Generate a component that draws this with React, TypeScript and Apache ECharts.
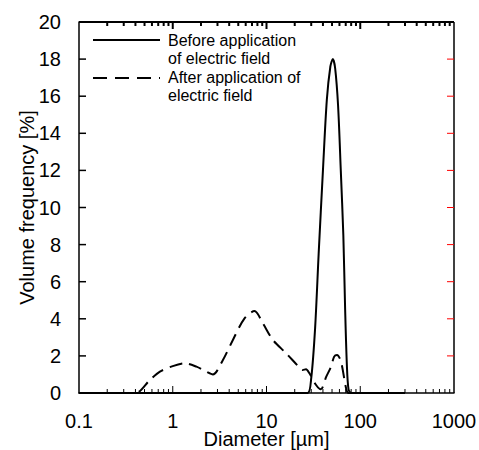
import React, { useEffect, useRef } from "react";
import * as echarts from "echarts";

// Solid: before application of electric field
const beforeDiameter = [0.1, 1, 10, 20, 27.5, 30, 33, 36, 40, 44, 48, 51, 54, 58, 62, 66, 69, 72, 75, 80, 100, 300];
const beforeVolume = [0, 0, 0, 0, 0, 0.8, 3.5, 7.5, 12, 15.8, 17.6, 18, 17.5, 15.5, 12, 8.5, 4.5, 1.5, 0.2, 0, 0, 0];

// Dashed: after application of electric field
const afterDiameter = [0.1, 0.2, 0.4, 0.57, 0.73, 1.0, 1.35, 1.79, 2.28, 2.68, 3.43, 4.38, 5.83, 7.45, 9.14, 11.7, 16.2, 22.4, 24.2, 26.4, 28.7, 33.8, 38, 43.4, 48.8, 52.7, 56.5, 62.3, 70.5, 75, 100, 300];
const afterVolume = [0, 0, 0, 0.7, 1.15, 1.45, 1.6, 1.42, 1.15, 1.0, 1.78, 2.86, 4.02, 4.42, 3.76, 2.86, 2.14, 1.38, 1.24, 1.28, 1.06, 0.43, 0.2, 0.88, 1.42, 1.96, 2.05, 1.7, 0.27, 0, 0, 0];

const xMajorTicks = [1, 10, 100];
const xMinorTicks = [0.2, 0.3, 0.4, 0.5, 0.6, 0.7, 0.8, 0.9, 2, 3, 4, 5, 6, 7, 8, 9, 20, 30, 40, 50, 60, 70, 80, 90, 200, 300, 400, 500, 600, 700, 800, 900];
const yTicks = [2, 4, 6, 8, 10, 12, 14, 16, 18];

const legendLabels = ["Before application", "of electric field", "After application of", "electric field"];

const FONT = "Liberation Sans, Arial, sans-serif";
const X_MIN = 0.1, X_MAX = 1000, Y_MIN = 0, Y_MAX = 20;
const W = 479, H = 450;
const GL = 79, GR = 454, GT = 22, GB = 393;

export default function App() {
  const ref = useRef<HTMLDivElement>(null);
  useEffect(() => {
    if (!ref.current) return;
    const chart = echarts.init(ref.current, undefined, { renderer: "svg" });
    const fmt = (v: number) => String(parseFloat(Number(v).toPrecision(6)));

    const xPos = (v: number) => GL + (Math.log10(v) - Math.log10(X_MIN)) / (Math.log10(X_MAX) - Math.log10(X_MIN)) * (GR - GL);
    const yPos = (v: number) => GB - (v - Y_MIN) / (Y_MAX - Y_MIN) * (GB - GT);
    const els: any[] = [];
    // variations to find what draws
    els.push({ type: "line", shape: { x1: GL, y1: GT, x2: GR, y2: GT }, style: { stroke: "#000", lineWidth: 2 } });
    els.push({ type: "line", shape: { x1: GR, y1: GT, x2: GR, y2: GB }, style: { stroke: "#000", lineWidth: 1.5 } });
    const addX = (v: number, len: number) => {
      const x = xPos(v);
      els.push({ type: "line", shape: { x1: x, y1: GB, x2: x, y2: GB - len }, style: { stroke: "#000", lineWidth: 1 } });
      els.push({ type: "line", shape: { x1: x, y1: GT, x2: x, y2: GT + len }, style: { stroke: "#000", lineWidth: 2 } });
    };
    xMajorTicks.forEach((v) => addX(v, 7));
    xMinorTicks.forEach((v) => addX(v, 4));
    yTicks.forEach((v) => {
      const y = yPos(v);
      els.push({ type: "line", shape: { x1: GL, y1: y, x2: GL + 7, y2: y }, style: { stroke: "#000", lineWidth: 1.5 } });
      els.push({ type: "line", shape: { x1: GR, y1: y, x2: GR - 7, y2: y }, style: { stroke: "red", lineWidth: 1 } });
    });
    // Legend
    els.push({ type: "line", shape: { x1: 93, y1: 40, x2: 160, y2: 40 }, style: { stroke: "#000", lineWidth: 2 } });
    els.push({ type: "line", shape: { x1: 93, y1: 78, x2: 160, y2: 78 }, style: { stroke: "#000", lineWidth: 2, lineDash: [14, 8] } });
    const ly = [40, 58, 77, 95];
    legendLabels.forEach((t, i) => {
      els.push({ type: "text", x: 168, y: ly[i], style: { text: t, fontSize: 16, fontFamily: FONT, fill: "#000", verticalAlign: "middle" } });
    });

    chart.setOption({
      animation: false,
      backgroundColor: "#fff",
      grid: { left: GL, right: W - GR, top: GT, bottom: H - GB, outerBoundsMode: "none" },
      xAxis: {
        type: "log",
        logBase: 10,
        min: X_MIN,
        max: X_MAX,
        name: "Diameter [µm]",
        nameLocation: "middle",
        nameGap: 36,
        nameMoveOverlap: false,
        nameTextStyle: { fontSize: 20, color: "#000", fontFamily: FONT },
        axisLine: { show: true, onZero: false, lineStyle: { color: "#000", width: 1.5 } },
        axisTick: { show: false },
        minorTick: { show: false },
        axisLabel: { fontSize: 20, lineHeight: 16, color: "#000", margin: 20, fontFamily: FONT, formatter: fmt },
        splitLine: { show: false },
      },
      yAxis: {
        type: "value",
        min: Y_MIN,
        max: Y_MAX,
        interval: 2,
        name: "Volume frequency [%]",
        nameLocation: "middle",
        nameGap: 42,
        nameMoveOverlap: false,
        nameTextStyle: { fontSize: 20, color: "#000", fontFamily: FONT },
        axisLine: { show: true, onZero: false, lineStyle: { color: "#000", width: 1.5 } },
        axisTick: { show: false },
        axisLabel: { fontSize: 20, color: "#000", margin: 18, fontFamily: FONT },
        splitLine: { show: false },
      },
      series: [
        {
          name: "Before application of electric field",
          type: "line",
          data: beforeDiameter.map((d, i) => [d, beforeVolume[i]]),
          showSymbol: false,
          smooth: 0.3,
          lineStyle: { color: "#000", width: 2, type: "solid" },
        },
        {
          name: "After application of electric field",
          type: "line",
          data: afterDiameter.map((d, i) => [d, afterVolume[i]]),
          showSymbol: false,
          smooth: 0.3,
          lineStyle: { color: "#000", width: 2, type: [13, 7] },
        },
      ],
      graphic: els,
    });

    return () => chart.dispose();
  }, []);
  return <div ref={ref} style={{ position: "absolute", left: 0, top: 0, width: W, height: H }} />;
}
